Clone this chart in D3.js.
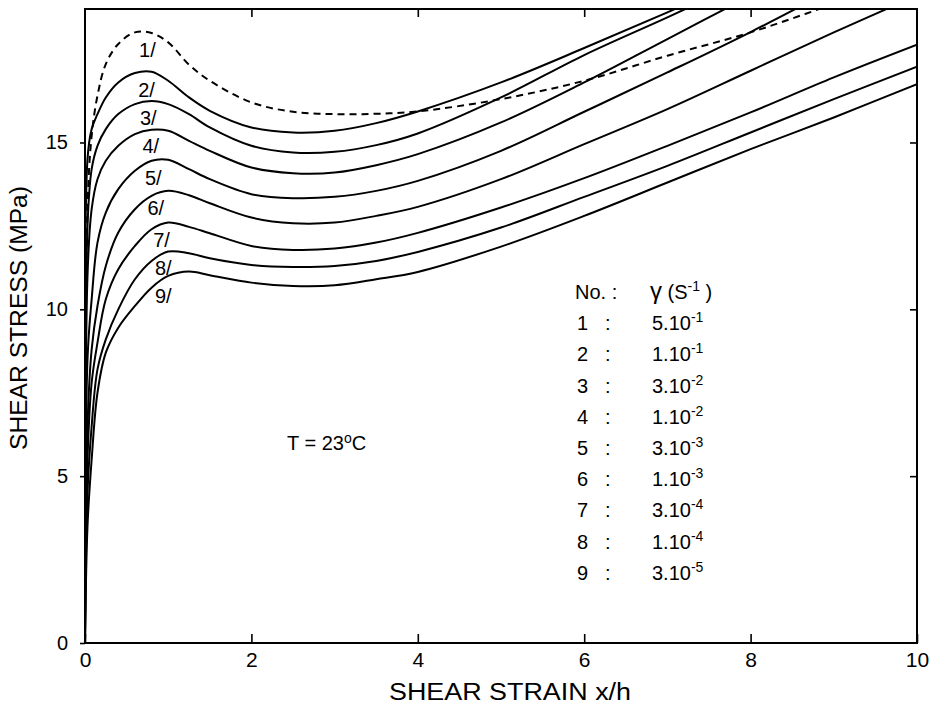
<!DOCTYPE html>
<html>
<head>
<meta charset="utf-8">
<script src="https://cdn.jsdelivr.net/npm/d3@7"></script>
<style>
body { margin: 0; background: #fff; }
text { font-family: "Liberation Sans", Arial, Helvetica, sans-serif; fill: #000; }
</style>
</head>
<body>
<script>

// shear strain x/h, shared by all curves
var strain = [0, 0.03, 0.08, 0.15, 0.25, 0.4, 0.6, 0.8, 1.0, 1.25, 1.5, 2, 2.5, 3, 3.5, 4, 5, 6, 7, 8, 9, 10];

// shear stress (MPa) for each rate
var stress1 = [0, 13.0, 15.2, 16.4, 17.35, 17.95, 18.3, 18.28, 18.0, 17.33, 16.85, 16.2, 15.92, 15.85, 15.86, 15.93, 16.3, 16.85, 17.6, 18.3, 19.15, 20.0];
var stress2 = [0, 14.5, 15.4, 15.85, 16.35, 16.8, 17.08, 17.12, 16.85, 16.35, 15.95, 15.45, 15.3, 15.35, 15.58, 15.93, 16.8, 17.83, 18.9, 20.0, 21.1, 22.2];
var stress3 = [0, 12.5, 14.2, 14.9, 15.4, 15.85, 16.15, 16.24, 16.15, 15.85, 15.45, 14.9, 14.7, 14.72, 14.92, 15.27, 16.35, 17.62, 18.75, 19.9, 21.0, 22.1];
var stress4 = [0, 11.0, 13.0, 13.9, 14.45, 14.9, 15.25, 15.38, 15.35, 15.05, 14.75, 14.25, 14.08, 14.1, 14.32, 14.65, 15.6, 16.8, 18.1, 19.4, 20.7, 22.0];
var stress5 = [0, 8.5, 10.3, 12.0, 12.9, 13.6, 14.15, 14.45, 14.48, 14.2, 13.9, 13.45, 13.33, 13.37, 13.55, 13.85, 14.75, 15.92, 17.1, 18.31, 19.6, 20.9];
var stress6 = [0, 6.5, 8.8, 10.1, 11.3, 12.3, 13.0, 13.4, 13.55, 13.42, 13.18, 12.75, 12.58, 12.6, 12.8, 13.07, 13.9, 14.95, 16.0, 17.15, 18.3, 19.4];
var stress7 = [0, 5.5, 7.8, 9.0, 10.3, 11.2, 11.9, 12.4, 12.6, 12.47, 12.28, 11.9, 11.78, 11.82, 12.0, 12.29, 13.05, 13.93, 14.9, 15.9, 16.95, 17.93];
var stress8 = [0, 4.5, 6.5, 8.2, 9.1, 10.0, 10.9, 11.45, 11.73, 11.68, 11.53, 11.33, 11.27, 11.3, 11.45, 11.72, 12.45, 13.37, 14.3, 15.3, 16.3, 17.27];
var stress9 = [0, 3.5, 5.5, 7.5, 8.7, 9.45, 10.1, 10.65, 11.0, 11.13, 11.02, 10.8, 10.7, 10.72, 10.9, 11.12, 11.88, 12.8, 13.8, 14.8, 15.75, 16.75];

var allStress = [stress1, stress2, stress3, stress4, stress5, stress6, stress7, stress8, stress9];

// curve labels near the peaks
var curveLabels = ["1/", "2/", "3/", "4/", "5/", "6/", "7/", "8/", "9/"];
var labelStrain = [0.65, 0.64, 0.66, 0.69, 0.72, 0.75, 0.82, 0.84, 0.84];
var labelStress = [17.56, 16.36, 15.52, 14.68, 13.72, 12.83, 11.87, 11.03, 10.19];

// legend: shear rate per curve
var rateNo = ["1", "2", "3", "4", "5", "6", "7", "8", "9"];
var rateBase = ["5.10", "1.10", "3.10", "1.10", "3.10", "1.10", "3.10", "1.10", "3.10"];
var rateExp = ["-1", "-1", "-2", "-2", "-3", "-3", "-4", "-4", "-5"];

var xTicks = [0, 2, 4, 6, 8, 10];
var yTicks = [0, 5, 10, 15];

var width = 938, height = 711;

var svg = d3.select("body").append("svg")
   .attr("width", width)
   .attr("height", height);

var x = d3.scaleLinear().domain([0, 10]).range([85, 917]);
var y = d3.scaleLinear().domain([0, 19]).range([643, 9]);

svg.append("clipPath")
   .attr("id", "plotclip")
   .append("rect")
   .attr("x", x(0))
   .attr("y", y(19))
   .attr("width", x(10) - x(0))
   .attr("height", y(0) - y(19));

// axes
var bottomAxis = svg.append("g")
   .attr("transform", "translate(0," + y(0) + ")")
   .call(d3.axisBottom(x).tickValues(xTicks).tickSizeInner(-9).tickSizeOuter(0).tickPadding(9));
bottomAxis.selectAll("text").style("font-size", "21px");

var leftAxis = svg.append("g")
   .attr("transform", "translate(" + x(0) + ",0)")
   .call(d3.axisLeft(y).tickValues(yTicks).tickSizeInner(5).tickSizeOuter(0).tickPadding(12));
leftAxis.selectAll("text").style("font-size", "20px");

svg.append("g")
   .attr("transform", "translate(0," + y(19) + ")")
   .call(d3.axisTop(x).tickValues([2, 4, 6, 8]).tickSizeInner(-8).tickSizeOuter(0).tickFormat(""));

svg.append("g")
   .attr("transform", "translate(" + x(10) + ",0)")
   .call(d3.axisRight(y).tickValues([5, 10, 15]).tickSizeInner(-7).tickSizeOuter(0).tickFormat(""));

svg.selectAll(".domain").remove();
svg.selectAll(".tick line").attr("stroke", "#000").attr("stroke-width", 1.6);

// frame
svg.append("rect")
   .attr("x", x(0))
   .attr("y", y(19))
   .attr("width", x(10) - x(0))
   .attr("height", y(0) - y(19))
   .attr("fill", "none")
   .attr("stroke", "#000")
   .attr("stroke-width", 2);

// curves
var line = d3.line()
   .x(function(d, i) { return x(strain[i]); })
   .y(function(d) { return y(d); })
   .curve(d3.curveCatmullRom.alpha(0.5));

svg.append("g")
   .attr("clip-path", "url(#plotclip)")
   .selectAll("path")
   .data(allStress)
   .enter()
   .append("path")
   .attr("d", line)
   .attr("fill", "none")
   .attr("stroke", "#000")
   .attr("stroke-width", 2)
   .attr("stroke-dasharray", function(d, i) { return i == 0 ? "7,5" : null; });

// labels on the curves
svg.selectAll(".clabel")
   .data(curveLabels)
   .enter()
   .append("text")
   .attr("class", "clabel")
   .attr("x", function(d, i) { return x(labelStrain[i]); })
   .attr("y", function(d, i) { return y(labelStress[i]); })
   .style("font-size", "20px")
   .text(function(d) { return d; });

// temperature
var tText = svg.append("text")
   .attr("x", 287)
   .attr("y", 450)
   .style("font-size", "20px");
tText.append("tspan").text("T = 23");
tText.append("tspan").attr("dy", -7).style("font-size", "14px").text("o");
tText.append("tspan").attr("dy", 7).text("C");

// legend
var legX = 575, legY = 299, legStep = 31.2;
svg.append("text")
   .attr("x", legX)
   .attr("y", legY)
   .style("font-size", "20px")
   .text("No. :");
var head = svg.append("text")
   .attr("x", 650)
   .attr("y", legY)
   .style("font-size", "20px");
head.append("tspan").style("font-size", "24px").text("\u03B3");
head.append("tspan").text(" (S");
head.append("tspan").attr("dy", -8).style("font-size", "14px").text("-1");
head.append("tspan").attr("dy", 8).text(" )");

var rows = svg.selectAll(".legrow")
   .data(rateNo)
   .enter()
   .append("g")
   .attr("class", "legrow")
   .attr("transform", function(d, i) { return "translate(0," + (legY + (i + 1) * legStep) + ")"; });

rows.append("text").attr("x", legX + 2).style("font-size", "20px").text(function(d) { return d; });
rows.append("text").attr("x", legX + 30).style("font-size", "20px").text(":");
var vals = rows.append("text").attr("x", 652).style("font-size", "20px");
vals.append("tspan").text(function(d, i) { return rateBase[i]; });
vals.append("tspan").attr("dy", -8).style("font-size", "14px").text(function(d, i) { return rateExp[i]; });

// axis titles
svg.append("text")
   .attr("x", 510)
   .attr("y", 700)
   .attr("text-anchor", "middle")
   .attr("textLength", 242)
   .attr("lengthAdjust", "spacingAndGlyphs")
   .style("font-size", "23px")
   .text("SHEAR STRAIN x/h");

svg.append("text")
   .attr("transform", "translate(27,318) rotate(-90)")
   .attr("text-anchor", "middle")
   .attr("textLength", 264)
   .attr("lengthAdjust", "spacingAndGlyphs")
   .style("font-size", "23px")
   .text("SHEAR STRESS (MPa)");

</script>
</body>
</html>
